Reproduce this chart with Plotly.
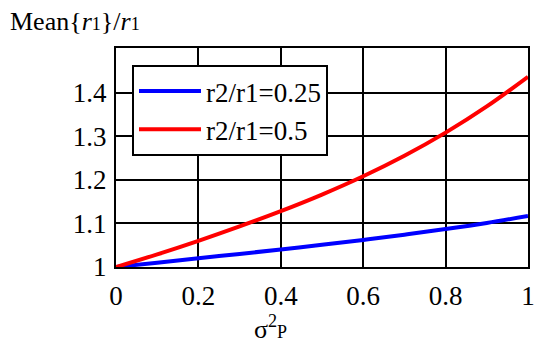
import plotly.graph_objects as go

x_vals = [0.0, 0.1, 0.2, 0.3, 0.4, 0.5, 0.6, 0.7, 0.8, 0.9, 1.0]
blue_vals = [1.0, 1.010, 1.020, 1.030, 1.040, 1.051, 1.062, 1.074, 1.087, 1.101, 1.117]
red_vals = [1.0, 1.029, 1.060, 1.093, 1.128, 1.166, 1.208, 1.255, 1.308, 1.368, 1.436]
series_names = ["r2/r1=0.25", "r2/r1=0.5"]
x_ticks = [0, 0.2, 0.4, 0.6, 0.8, 1]
x_tick_labels = ["0", "0.2", "0.4", "0.6", "0.8", "1"]
y_ticks = [1, 1.1, 1.2, 1.3, 1.4]
y_tick_labels = ["1", "1.1", "1.2", "1.3", "1.4"]

FONT = "Liberation Serif"
L, R, T, B = 116, 22, 48, 76
PW, PH = 550 - L - R, 343 - T - B

fig = go.Figure()
fig.add_trace(go.Scatter(x=x_vals, y=blue_vals, mode="lines", name=series_names[0],
                         line=dict(color="#0000ff", width=4, shape="spline")))
fig.add_trace(go.Scatter(x=x_vals, y=red_vals, mode="lines", name=series_names[1],
                         line=dict(color="#ff0000", width=4, shape="spline")))

fig.update_layout(
    width=550, height=343,
    margin=dict(l=L, r=R, t=T, b=B, autoexpand=False),
    paper_bgcolor="white", plot_bgcolor="white",
    font=dict(family=FONT, color="black", size=27),
    showlegend=True,
    legend=dict(x=16 / PW, y=(267 - 65) / PH, xanchor="left", yanchor="top",
                bgcolor="white", bordercolor="black", borderwidth=2,
                font=dict(family=FONT, size=27, color="black"),
                itemwidth=62, tracegroupgap=0),
    xaxis=dict(range=[0, 1], tickvals=x_ticks, ticktext=x_tick_labels,
               showgrid=True, gridcolor="black", gridwidth=2,
               showline=True, linecolor="black", linewidth=2, mirror=True,
               zeroline=False, ticks="", ticklabelstandoff=4, automargin=False,
               tickfont=dict(family=FONT, size=27, color="black")),
    yaxis=dict(range=[1, 1.502], tickvals=y_ticks, ticktext=y_tick_labels,
               showgrid=True, gridcolor="black", gridwidth=2,
               showline=True, linecolor="black", linewidth=2, mirror=True,
               zeroline=False, ticks="", ticklabelstandoff=2, automargin=False,
               tickfont=dict(family=FONT, size=27, color="black")),
    annotations=[
        dict(text="Mean{<i>r</i><span style='font-size:18px'>1</span>}/<i>r</i>"
                  "<span style='font-size:18px'>1</span>",
             x=-108 / PW, y=(267 - 22) / PH,
             xref="paper", yref="paper", showarrow=False, xanchor="left", yanchor="middle",
             font=dict(family=FONT, size=26, color="black")),
        dict(text="σ<sup>2</sup><span style='font-size:18px'>P</span>",
             x=(270 - L) / PW, y=(267 - 309) / PH,
             xref="paper", yref="paper", showarrow=False, xanchor="center", yanchor="top",
             font=dict(family=FONT, size=26, color="black")),
    ],
)
fig.write_html("out.html", config={"displayModeBar": False},
               post_script="document.body.style.margin='0';document.body.style.overflow='hidden';")
